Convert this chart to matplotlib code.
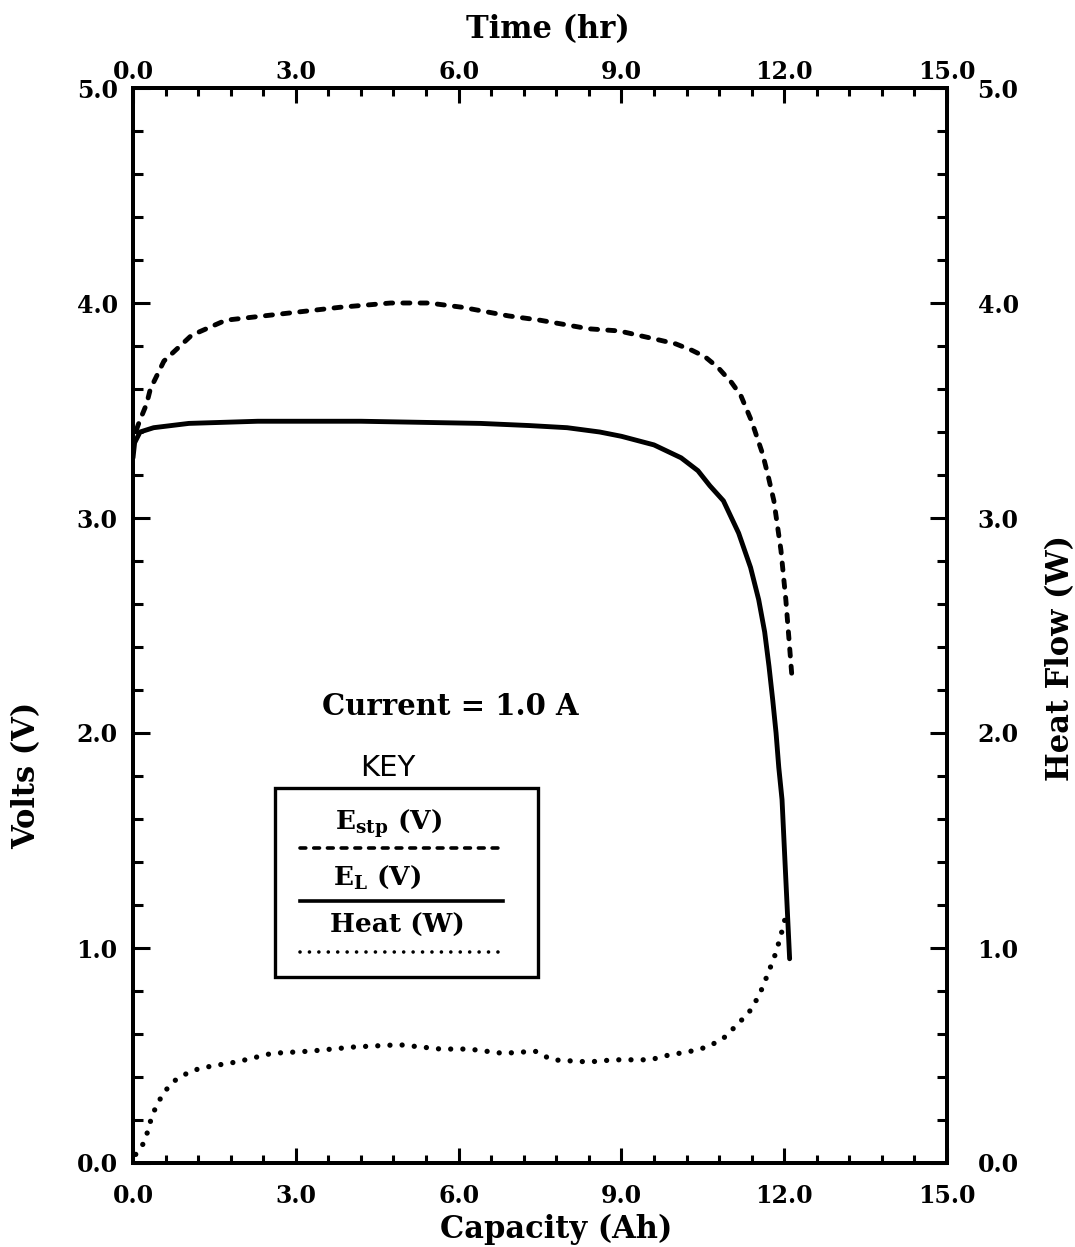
import matplotlib
matplotlib.use("Agg")
import matplotlib.pyplot as plt
from matplotlib.ticker import MultipleLocator, FormatStrFormatter

plt.rcParams['font.family'] = 'DejaVu Serif'
plt.rcParams['font.weight'] = 'bold'
plt.rcParams['mathtext.fontset'] = 'dejavuserif'
plt.rcParams['mathtext.default'] = 'bf'

# E_stp (V) - dashed
cap_stp = [0.0, 0.02, 0.12, 0.25, 0.32, 0.57, 1.08, 1.71, 2.41, 3.11, 3.81, 4.75, 5.45,
           6.07, 6.92, 7.5, 8.4, 8.96, 9.66, 10.0, 10.3, 10.54, 10.78, 11.03, 11.2, 11.4,
           11.6, 11.7, 11.81, 11.94, 12.03, 12.09, 12.14]
e_stp = [3.33, 3.38, 3.45, 3.53, 3.6, 3.73, 3.85, 3.92, 3.94, 3.96, 3.98, 4.0, 4.0,
         3.98, 3.94, 3.92, 3.88, 3.87, 3.83, 3.81, 3.78, 3.75, 3.70, 3.63, 3.57, 3.45,
         3.30, 3.20, 3.08, 2.85, 2.62, 2.43, 2.27]

# E_L (V) - solid
cap_el = [0.0, 0.03, 0.13, 0.38, 1.03, 2.3, 4.2, 6.4, 7.3, 8.0, 8.6, 9.0, 9.3, 9.6,
          9.85, 10.1, 10.41, 10.63, 10.88, 11.16, 11.38, 11.53, 11.64, 11.72, 11.79,
          11.85, 11.9, 11.96, 12.03, 12.1]
e_l = [3.28, 3.35, 3.40, 3.42, 3.44, 3.45, 3.45, 3.44, 3.43, 3.42, 3.40, 3.38, 3.36,
       3.34, 3.31, 3.28, 3.22, 3.15, 3.08, 2.93, 2.77, 2.62, 2.47, 2.31, 2.15,
       2.00, 1.84, 1.69, 1.32, 0.95]

# Heat (W) - dotted
cap_heat = [0.05, 0.19, 0.25, 0.34, 0.42, 0.57, 0.80, 1.09, 1.43, 1.91, 2.56, 3.25, 4.09,
            4.91, 5.67, 6.19, 6.82, 7.41, 7.72, 8.4, 8.86, 9.19, 9.53, 9.84, 10.28, 10.59,
            10.88, 11.12, 11.35, 11.54, 11.7, 11.85, 11.95, 12.05]
heat = [0.04, 0.09, 0.13, 0.21, 0.26, 0.33, 0.39, 0.43, 0.45, 0.47, 0.51, 0.52, 0.54,
        0.55, 0.53, 0.53, 0.51, 0.52, 0.48, 0.47, 0.48, 0.48, 0.48, 0.50, 0.52, 0.54,
        0.58, 0.64, 0.70, 0.78, 0.88, 0.98, 1.07, 1.17]

fig = plt.figure(figsize=(10.75, 12.47), dpi=100)
ax = fig.add_axes([133 / 1075, 84 / 1247, 814 / 1075, 1075 / 1247])
ax2 = ax.twinx()
ax3 = ax.twiny()

dash = (0, (1.45, 2.1))
dot = (0, (0.01, 2.3))
ax.plot(cap_stp, e_stp, color='black', lw=3.5, linestyle=dash, dash_capstyle='round')
ax.plot(cap_el, e_l, color='black', lw=3.5, solid_capstyle='round',
        solid_joinstyle='round')
ax2.plot(cap_heat, heat, color='black', lw=3.8, linestyle=dot, dash_capstyle='round')

ax.set_xlim(0, 15)
ax3.set_xlim(0, 15)
ax.set_ylim(0, 5)
ax2.set_ylim(0, 5)

for a in (ax, ax2, ax3):
    a.xaxis.set_major_locator(MultipleLocator(3))
    a.xaxis.set_minor_locator(MultipleLocator(0.6))
    a.yaxis.set_major_locator(MultipleLocator(1))
    a.yaxis.set_minor_locator(MultipleLocator(0.2))
    a.xaxis.set_major_formatter(FormatStrFormatter('%.1f'))
    a.yaxis.set_major_formatter(FormatStrFormatter('%.1f'))
    for s in a.spines.values():
        s.set_linewidth(2.8)

# bottom axis
ax.tick_params(axis='x', which='both', direction='in', top=False, bottom=True,
               labeltop=False, labelbottom=True, width=2.2, labelsize=17, pad=15)
ax.tick_params(axis='x', which='major', length=11)
ax.tick_params(axis='x', which='minor', length=6)

# top axis (time)
ax3.tick_params(axis='x', which='both', direction='in', top=True, bottom=False,
                labeltop=True, labelbottom=False, width=2.2, labelsize=17, pad=3)
ax3.tick_params(axis='x', which='major', length=11)
ax3.tick_params(axis='x', which='minor', length=6)
ax3.tick_params(axis='y', left=False, right=False, labelleft=False, labelright=False)

# left axis
ax.tick_params(axis='y', which='both', direction='in', left=True, right=False,
               width=2.2, labelsize=17, pad=11)
ax.tick_params(axis='y', which='major', length=12)
ax.tick_params(axis='y', which='minor', length=7)

# right axis
ax2.tick_params(axis='y', which='both', direction='in', right=True, left=False,
                width=2.2, labelsize=17, pad=22)
ax2.tick_params(axis='y', which='major', length=12)
ax2.tick_params(axis='y', which='minor', length=7)

ax.text(0.51, 1.054, 'Time (hr)', transform=ax.transAxes, ha='center', va='center',
        fontsize=22, fontweight='bold')
ax.text(0.52, -0.062, 'Capacity (Ah)', transform=ax.transAxes, ha='center', va='center',
        fontsize=22, fontweight='bold')
ax.text(-0.131, 0.361, 'Volts (V)', transform=ax.transAxes, ha='center', va='center',
        rotation=90, fontsize=22, fontweight='bold')
ax.text(1.14, 0.47, 'Heat Flow (W)', transform=ax.transAxes, ha='center', va='center',
        rotation=90, fontsize=22, fontweight='bold')

ax.text(0.390, 0.425, 'Current = 1.0 A', transform=ax.transAxes, ha='center', va='center',
        fontsize=21, fontweight='bold')

# key box
ax.text(0.3125, 0.367, 'KEY', transform=ax.transAxes, ha='center', va='center',
        fontsize=21, fontfamily='DejaVu Sans', fontweight='normal')
ax.add_patch(plt.Rectangle((0.175, 0.173), 0.3225, 0.176, transform=ax.transAxes,
                           fill=False, lw=2.4, ec='black'))
ax.text(0.314, 0.316, r'E$_{\mathbf{stp}}$ (V)', transform=ax.transAxes, ha='center',
        va='center', fontsize=19, fontweight='bold')
ax.plot([0.2057, 0.4544], [0.293, 0.293], transform=ax.transAxes, color='black', lw=2.6,
        linestyle=(0, (1.6, 2.2)), dash_capstyle='round')
ax.text(0.300, 0.266, r'E$_{\mathbf{L}}$ (V)', transform=ax.transAxes, ha='center',
        va='center', fontsize=19, fontweight='bold')
ax.plot([0.2057, 0.4544], [0.244, 0.244], transform=ax.transAxes, color='black', lw=2.6)
ax.text(0.325, 0.221, 'Heat (W)', transform=ax.transAxes, ha='center', va='center',
        fontsize=19, fontweight='bold')
ax.plot([0.2057, 0.4544], [0.196, 0.196], transform=ax.transAxes, color='black', lw=2.6,
        linestyle=(0, (0.01, 2.6)), dash_capstyle='round')

fig.savefig('out.png', dpi=100)
